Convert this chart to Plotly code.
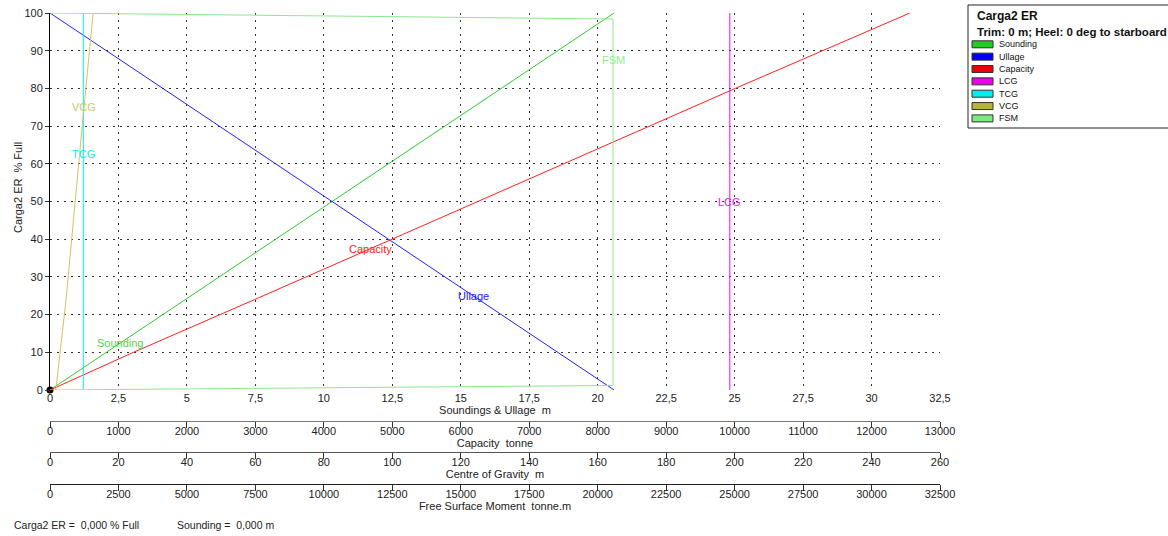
import numpy as np
import plotly.graph_objects as go

# ---- tank curve data (Carga2 ER) against % full ----
sounding_pct = [0, 100]
sounding_m = [0.0, 20.6]

ullage_pct = [0, 100]
ullage_m = [20.6, 0.0]

capacity_pct = [0, 10, 24, 40, 80, 100]
capacity_t = [0, 1220, 2990, 4990, 10010, 12560]

lcg_pct = [0, 100]
lcg_m = [198.6, 198.6]

tcg_pct = [0, 100]
tcg_m = [9.73, 9.73]

vcg_pct = [0, 24, 70, 100]
vcg_m = [1.7, 4.7, 9.4, 12.6]

fsm_pct = [0, 1.2, 98.4, 100]
fsm_tm = [0, 20560, 20560, 0]

# current tank state
current_pct = 0.0
current_sounding = 0.0

series_names = ["Sounding", "Ullage", "Capacity", "LCG", "TCG", "VCG", "FSM"]
line_colors = ["#2ecc2e", "#2020ff", "#ff2020", "#ff00ff", "#00f0f0", "#cbc566", "#8ee88e"]
label_colors = ["#4cd64c", "#2020ff", "#ff2020", "#e020e0", "#10e8e8", "#cdc56a", "#90ee90"]
swatch_colors = ["#22cc22", "#0000ee", "#ee0000", "#ee00ee", "#00eeee", "#b4b43c", "#80e880"]
label_pct = [12.5, 25, 37.5, 50, 62.5, 75, 87.5]

# axis tick values
sound_ticks = [i * 2.5 for i in range(14)]
capacity_ticks = list(range(0, 13001, 1000))
cog_ticks = list(range(0, 261, 20))
fsm_ticks = list(range(0, 32501, 2500))
pct_ticks = list(range(0, 101, 10))


def fmt(v):
    if float(v).is_integer():
        return str(int(v))
    return str(v).replace(".", ",")


# series -> (x values, % values, x axis)
series = [
    (sounding_m, sounding_pct, "x"),
    (ullage_m, ullage_pct, "x"),
    (capacity_t, capacity_pct, "x2"),
    (lcg_m, lcg_pct, "x3"),
    (tcg_m, tcg_pct, "x3"),
    (vcg_m, vcg_pct, "x3"),
    (fsm_tm, fsm_pct, "x4"),
]

W, H = 1168, 536
ML, MR, MT, MB = 50, 228, 13, 10
PW, PH = W - ML - MR, H - MT - MB


def px(xpix):
    return (xpix - ML) / PW


def py(ypix):
    return (H - MB - ypix) / PH


fig = go.Figure()

for (xs, ys, ax), name, col in zip(series, series_names, line_colors):
    fig.add_trace(go.Scatter(
        x=xs, y=ys, xaxis=ax, yaxis="y", mode="lines", name=name,
        line=dict(color=col, width=1), showlegend=False, hoverinfo="skip"))

# current fill marker
fig.add_trace(go.Scatter(
    x=[current_sounding], y=[current_pct], xaxis="x", yaxis="y", mode="markers",
    marker=dict(color="black", size=7), cliponaxis=False, showlegend=False,
    hoverinfo="skip"))

annotations = []

# curve labels placed on each curve
for (xs, ys, ax), name, col, lp in zip(series, series_names, label_colors, label_pct):
    if name == "FSM":
        xv = max(xs)
    else:
        xv = float(np.interp(lp, ys, xs))
    annotations.append(dict(
        x=xv, y=lp, xref=ax, yref="y", text=name, showarrow=False,
        font=dict(family="Liberation Sans, Arial", size=11, color=col),
        xanchor="center", yanchor="middle"))

font = dict(family="Liberation Sans, Arial", size=11, color="#222")

# y-axis title
annotations.append(dict(
    x=px(18), y=py(188), xref="paper", yref="paper", text="Carga2 ER  % Full",
    textangle=-90, showarrow=False, font=font, xanchor="center", yanchor="middle"))

# status line at the bottom
status_font = dict(family="Liberation Sans, Arial", size=10.5, color="#222")
annotations.append(dict(
    x=px(12), y=py(525), xref="paper", yref="paper", text="Carga2 ER =  0,000 % Full",
    showarrow=False, font=status_font, xanchor="left", yanchor="middle"))
annotations.append(dict(
    x=px(175), y=py(525), xref="paper", yref="paper", text="Sounding =  0,000 m",
    showarrow=False, font=status_font, xanchor="left", yanchor="middle"))

# legend box
shapes = [dict(type="rect", xref="paper", yref="paper",
               x0=px(968), x1=px(1180), y0=py(5), y1=py(128),
               line=dict(color="#222", width=1), fillcolor="white", layer="above")]
annotations.append(dict(
    x=px(975), y=py(16), xref="paper", yref="paper", text="<b>Carga2 ER</b>",
    showarrow=False, font=dict(family="Liberation Sans, Arial", size=12, color="#111"),
    xanchor="left", yanchor="middle"))
annotations.append(dict(
    x=px(975), y=py(32.5), xref="paper", yref="paper",
    text="<b>Trim: 0 m; Heel: 0 deg to starboard</b>",
    showarrow=False, font=dict(family="Liberation Sans, Arial", size=11.5, color="#111"),
    xanchor="left", yanchor="middle"))
for i, (name, sc) in enumerate(zip(series_names, swatch_colors)):
    yc = 44.3 + i * 12.35
    shapes.append(dict(type="rect", xref="paper", yref="paper",
                       x0=px(972), x1=px(993), y0=py(yc - 3.5), y1=py(yc + 3.5),
                       line=dict(color="#333", width=1), fillcolor=sc, layer="above"))
    annotations.append(dict(
        x=px(997), y=py(yc), xref="paper", yref="paper", text=name, showarrow=False,
        font=dict(family="Liberation Sans, Arial", size=9, color="#111"),
        xanchor="left", yanchor="middle"))

grid = dict(showgrid=True, griddash="2px,5px", gridcolor="#333", gridwidth=1)


def sub_axis(ticks, rng, title, ypix, linecol):
    return dict(
        overlaying="x", anchor="free", position=py(ypix), side="bottom",
        automargin=False,
        range=rng, tickmode="array", tickvals=ticks, ticktext=[fmt(t) for t in ticks],
        showline=True, linecolor=linecol, linewidth=1, ticks="",
        showgrid=False, zeroline=False, tickfont=font,
        minor=dict(tickmode="array", tickvals=ticks, ticks="outside", ticklen=6,
                   tickcolor="#333", showgrid=False),
        title=dict(text=title, font=font, standoff=2))


fig.update_layout(
    width=W, height=H,
    margin=dict(l=ML, r=MR, t=MT, b=MB),
    paper_bgcolor="white", plot_bgcolor="white",
    showlegend=False,
    xaxis=dict(domain=[0, 1], anchor="y", range=[0, 32.5], tickmode="array",
               automargin=False,
               tickvals=sound_ticks, ticktext=[fmt(t) for t in sound_ticks],
               showline=False, ticks="", zeroline=False, tickfont=font,
               title=dict(text="Soundings & Ullage  m", font=font, standoff=2), **grid),
    xaxis2=sub_axis(capacity_ticks, [0, 13000], "Capacity  tonne", 421, "#777"),
    xaxis3=sub_axis(cog_ticks, [0, 260], "Centre of Gravity  m", 452, "#555"),
    xaxis4=sub_axis(fsm_ticks, [0, 32500], "Free Surface Moment  tonne.m", 484, "#222"),
    yaxis=dict(domain=[py(390), 1], anchor="x", range=[0, 100], tickmode="array",
               automargin=False,
               tickvals=pct_ticks, ticktext=[fmt(t) for t in pct_ticks],
               showline=True, linecolor="black", linewidth=1, ticks="outside",
               ticklen=4, tickcolor="#333", zeroline=False, tickfont=font, **grid),
    annotations=annotations,
    shapes=shapes,
)

fig.write_html("out.html")
